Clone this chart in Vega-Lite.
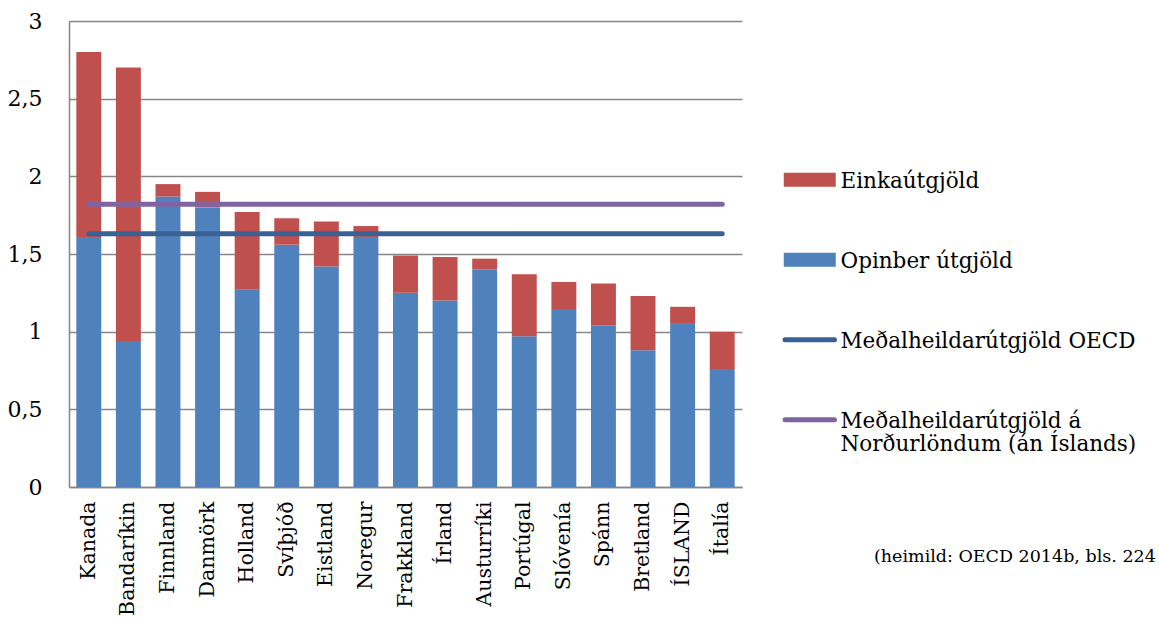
{
  "$schema": "https://vega.github.io/schema/vega-lite/v6.json",
  "width": 673,
  "height": 466,
  "autosize": "none",
  "padding": {"left": 69, "top": 21, "right": 417, "bottom": 130},
  "background": "white",
  "title": {
    "text": "(heimild: OECD 2014b, bls. 224",
    "orient": "bottom",
    "anchor": "start",
    "frame": "group",
    "dx": 805,
    "dy": -71,
    "font": "DejaVu Serif",
    "fontSize": 17.5,
    "fontWeight": "normal",
    "color": "black"
  },
  "datasets": {
    "bars": [
      {"country": "Kanada", "series": "Opinber útgjöld", "value": 1.61},
      {"country": "Kanada", "series": "Einkaútgjöld", "value": 1.19},
      {"country": "Bandaríkin", "series": "Opinber útgjöld", "value": 0.94},
      {"country": "Bandaríkin", "series": "Einkaútgjöld", "value": 1.76},
      {"country": "Finnland", "series": "Opinber útgjöld", "value": 1.87},
      {"country": "Finnland", "series": "Einkaútgjöld", "value": 0.08},
      {"country": "Danmörk", "series": "Opinber útgjöld", "value": 1.80},
      {"country": "Danmörk", "series": "Einkaútgjöld", "value": 0.10},
      {"country": "Holland", "series": "Opinber útgjöld", "value": 1.27},
      {"country": "Holland", "series": "Einkaútgjöld", "value": 0.50},
      {"country": "Svíþjóð", "series": "Opinber útgjöld", "value": 1.56},
      {"country": "Svíþjóð", "series": "Einkaútgjöld", "value": 0.17},
      {"country": "Eistland", "series": "Opinber útgjöld", "value": 1.42},
      {"country": "Eistland", "series": "Einkaútgjöld", "value": 0.29},
      {"country": "Noregur", "series": "Opinber útgjöld", "value": 1.61},
      {"country": "Noregur", "series": "Einkaútgjöld", "value": 0.07},
      {"country": "Frakkland", "series": "Opinber útgjöld", "value": 1.25},
      {"country": "Frakkland", "series": "Einkaútgjöld", "value": 0.24},
      {"country": "Írland", "series": "Opinber útgjöld", "value": 1.20},
      {"country": "Írland", "series": "Einkaútgjöld", "value": 0.28},
      {"country": "Austurríki", "series": "Opinber útgjöld", "value": 1.40},
      {"country": "Austurríki", "series": "Einkaútgjöld", "value": 0.07},
      {"country": "Portúgal", "series": "Opinber útgjöld", "value": 0.97},
      {"country": "Portúgal", "series": "Einkaútgjöld", "value": 0.40},
      {"country": "Slóvenía", "series": "Opinber útgjöld", "value": 1.14},
      {"country": "Slóvenía", "series": "Einkaútgjöld", "value": 0.18},
      {"country": "Spánn", "series": "Opinber útgjöld", "value": 1.04},
      {"country": "Spánn", "series": "Einkaútgjöld", "value": 0.27},
      {"country": "Bretland", "series": "Opinber útgjöld", "value": 0.88},
      {"country": "Bretland", "series": "Einkaútgjöld", "value": 0.35},
      {"country": "ÍSLAND", "series": "Opinber útgjöld", "value": 1.05},
      {"country": "ÍSLAND", "series": "Einkaútgjöld", "value": 0.11},
      {"country": "Ítalía", "series": "Opinber útgjöld", "value": 0.76},
      {"country": "Ítalía", "series": "Einkaútgjöld", "value": 0.24}
    ],
    "lines": [
      {"country": "Kanada", "series": "Meðalheildarútgjöld OECD", "value": 1.63},
      {"country": "Ítalía", "series": "Meðalheildarútgjöld OECD", "value": 1.63},
      {"country": "Kanada", "series": "Meðalheildarútgjöld á Norðurlöndum (án Íslands)", "value": 1.82},
      {"country": "Ítalía", "series": "Meðalheildarútgjöld á Norðurlöndum (án Íslands)", "value": 1.82}
    ]
  },
  "encoding": {
    "x": {
      "field": "country",
      "type": "nominal",
      "scale": {
        "domain": ["Kanada", "Bandaríkin", "Finnland", "Danmörk", "Holland", "Svíþjóð", "Eistland", "Noregur", "Frakkland", "Írland", "Austurríki", "Portúgal", "Slóvenía", "Spánn", "Bretland", "ÍSLAND", "Ítalía"],
        "paddingInner": 0.37,
        "paddingOuter": 0.185
      },
      "axis": {
        "title": null,
        "labelAngle": -90,
        "ticks": false,
        "domainColor": "#868686",
        "domainWidth": 1.5,
        "labelFont": "DejaVu Serif",
        "labelFontSize": 20.5,
        "labelColor": "black",
        "labelPadding": 14
      }
    },
    "y": {
      "field": "value",
      "type": "quantitative",
      "scale": {"domain": [0, 3], "nice": false},
      "axis": {
        "title": null,
        "values": [0, 0.5, 1, 1.5, 2, 2.5, 3],
        "labelExpr": "replace(format(datum.value, '~g'), '.', ',')",
        "ticks": false,
        "domainColor": "#868686",
        "domainWidth": 1.5,
        "gridColor": "#868686",
        "gridWidth": 1.3,
        "labelFont": "DejaVu Serif",
        "labelFontSize": 22,
        "labelColor": "black",
        "labelPadding": 27
      }
    }
  },
  "layer": [
    {
      "data": {"name": "bars"},
      "mark": {"type": "bar"},
      "encoding": {
        "y": {"field": "value", "type": "quantitative", "stack": "zero"},
        "order": {"field": "series", "sort": "descending"},
        "color": {
          "field": "series",
          "type": "nominal",
          "scale": {
            "domain": ["Einkaútgjöld", "Opinber útgjöld", "Meðalheildarútgjöld OECD", "Meðalheildarútgjöld á Norðurlöndum (án Íslands)"],
            "range": ["#C0504D", "#4F81BD", "#3A6193", "#8064A2"]
          },
          "legend": {
            "title": null,
            "orient": "none",
            "legendX": 730,
            "legendY": 148,
            "padding": 0,
            "symbolSize": 2704,
            "labelFont": "DejaVu Serif",
            "labelFontSize": 21.5,
            "labelColor": "black",
            "labelLimit": 600,
            "labelOffset": 20,
            "rowPadding": 56,
            "labelBaseline": "alphabetic",
            "labelExpr": "datum.label == 'Meðalheildarútgjöld á Norðurlöndum (án Íslands)' ? ['Meðalheildarútgjöld á', 'Norðurlöndum (án Íslands)'] : datum.label",
            "encode": {
              "symbols": {
                "update": {
                  "shape": {"signal": "indexof(['Einkaútgjöld','Opinber útgjöld'], datum.value) >= 0 ? 'M-1,-0.27H1V0.27H-1Z' : 'M-0.95,0H0.95'"},
                  "fill": {"signal": "indexof(['Einkaútgjöld','Opinber útgjöld'], datum.value) >= 0 ? scale('color', datum.value) : 'transparent'"},
                  "stroke": {"signal": "indexof(['Einkaútgjöld','Opinber útgjöld'], datum.value) >= 0 ? 'transparent' : scale('color', datum.value)"},
                  "strokeWidth": {"signal": "indexof(['Einkaútgjöld','Opinber útgjöld'], datum.value) >= 0 ? 0 : 5"},
                  "strokeCap": {"value": "round"},
                  "opacity": {"value": 1}
                }
              },
              "labels": {
                "update": {"dy": {"value": 8}}
              }
            }
          }
        }
      }
    },
    {
      "data": {"name": "lines"},
      "mark": {"type": "line", "strokeWidth": 5, "strokeCap": "round"},
      "encoding": {
        "color": {"field": "series", "type": "nominal"}
      }
    }
  ],
  "config": {
    "view": {"stroke": null},
    "font": "DejaVu Serif"
  }
}
